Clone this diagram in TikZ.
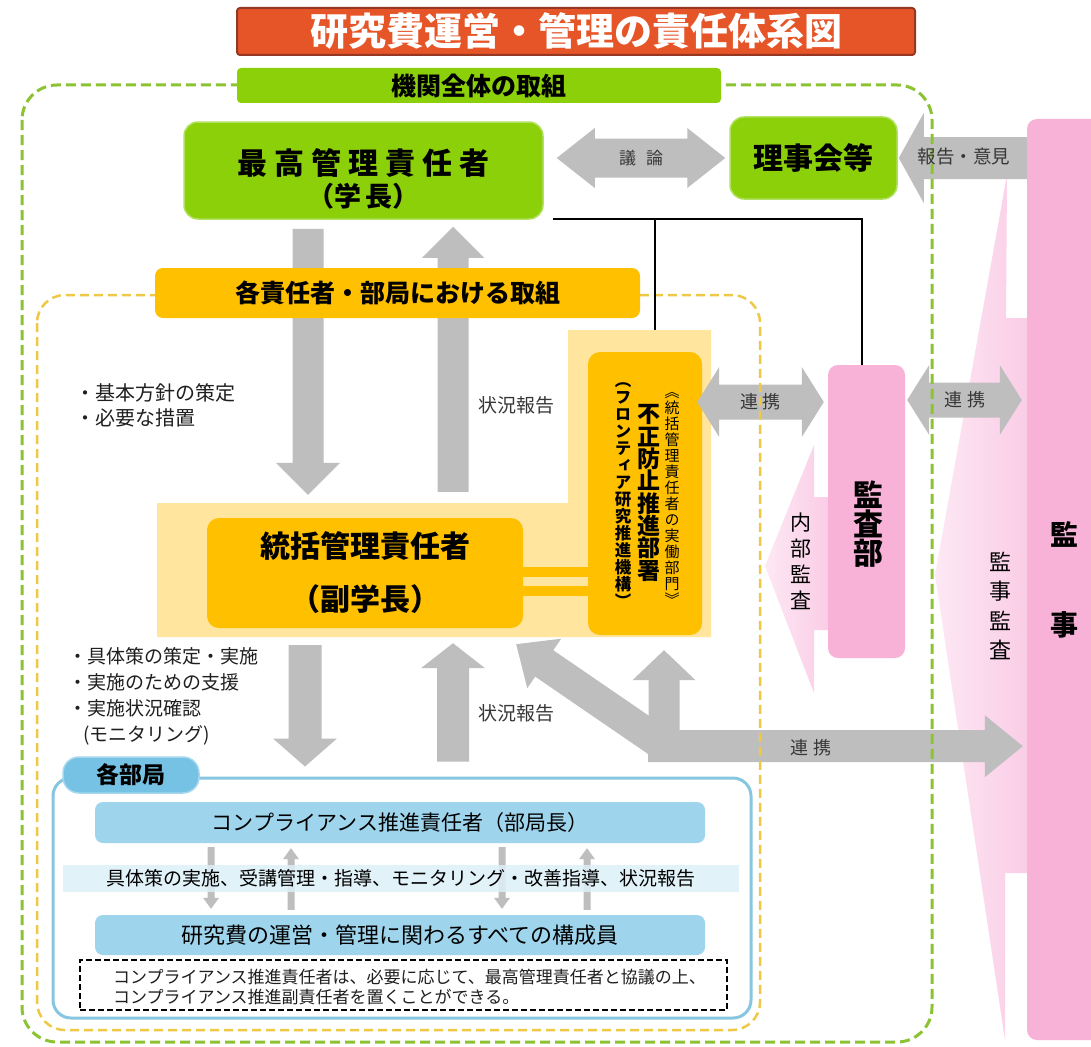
\documentclass[tikz,border=0pt]{standalone}
\usepackage{fontspec}
\setmainfont{Noto Sans CJK JP}
\newfontfamily\jpv[RawFeature=+vert]{Noto Sans CJK JP}
\usetikzlibrary{calc}
\setlength{\lineskiplimit}{-100pt}
\newcommand\fsz[2]{\fontsize{#1}{#2}\selectfont}
\definecolor{cTitle}{RGB}{230,85,40}
\definecolor{cTitleB}{RGB}{150,55,35}
\definecolor{cGreen}{RGB}{140,208,10}
\definecolor{cGreenB}{RGB}{178,224,96}
\definecolor{cGDash}{RGB}{140,195,50}
\definecolor{cYDash}{RGB}{238,200,70}
\definecolor{cOrange}{RGB}{255,192,0}
\definecolor{cLYellow}{RGB}{255,229,158}
\definecolor{cPink}{RGB}{248,178,216}
\definecolor{cPinkL}{RGB}{250,204,230}
\definecolor{cPinkLL}{RGB}{253,232,244}
\definecolor{cGray}{RGB}{190,190,190}
\definecolor{cGrayT}{RGB}{55,55,55}
\definecolor{cBlueT}{RGB}{118,194,228}
\definecolor{cBlueTab}{RGB}{165,215,238}
\definecolor{cBlueB}{RGB}{135,198,224}
\definecolor{cBlueBar}{RGB}{158,212,236}
\definecolor{cBlueS}{RGB}{222,240,248}
% single block arrow: tail, tip, shaft half width, head length, head half width, colour
\newcommand\blkarrow[6]{%
 \coordinate (aT) at (#1);
 \coordinate (aP) at (#2);
 \coordinate (aH) at ($(aP)!#4pt!(aT)$);
 \fill[#6] ($(aT)!#3pt!90:(aP)$) -- ($(aH)!#3pt!90:(aP)$) -- ($(aH)!#5pt!90:(aP)$) -- (aP)
   -- ($(aH)!#5pt!-90:(aP)$) -- ($(aH)!#3pt!-90:(aP)$) -- ($(aT)!#3pt!-90:(aP)$) -- cycle;}
% double block arrow
\newcommand\dblarrow[6]{%
 \coordinate (aA) at (#1);
 \coordinate (aB) at (#2);
 \coordinate (aHA) at ($(aA)!#4pt!(aB)$);
 \coordinate (aHB) at ($(aB)!#4pt!(aA)$);
 \fill[#6] (aA) -- ($(aHA)!#5pt!90:(aB)$) -- ($(aHA)!#3pt!90:(aB)$) -- ($(aHB)!#3pt!90:(aB)$)
   -- ($(aHB)!#5pt!90:(aB)$) -- (aB) -- ($(aHB)!#5pt!-90:(aB)$) -- ($(aHB)!#3pt!-90:(aB)$)
   -- ($(aHA)!#3pt!-90:(aB)$) -- ($(aHA)!#5pt!-90:(aB)$) -- cycle;}
\tikzset{
  rbox/.style={rounded corners=#1, inner sep=0pt, align=center},
  greenbox/.style={rbox=14, fill=cGreen, draw=cGreenB, line width=1.5},
  orangebox/.style={rbox=12, fill=cOrange},
  pinkbox/.style={rbox=10, fill=cPink},
  bluebar/.style={rbox=8, fill=cBlueBar},
  atext/.style={text=cGrayT, inner sep=0pt},
  btext/.style={inner sep=0pt, align=left, text=black!88},
  vtext/.style={inner sep=0pt, align=center},
}
\begin{document}
\begin{tikzpicture}[x=1pt,y=-1pt]
\fill[white] (0,0) rectangle (1091,1046);
\useasboundingbox (0,0) rectangle (1091,1046);

% ---- pink audit shapes
\shade[left color=cPinkLL,right color=cPinkL] (1007,175) -- (935,575) -- (1005,1040) -- (1005,873) -- (1030,873) -- (1030,318) -- (1006,318) -- cycle;
\node[pinkbox, minimum width=83, minimum height=921] (kanji) at (1068.5,579.5) {};
\shade[left color=cPinkLL,right color=cPinkL] (814,445) -- (765,566) -- (814,693) -- (814,630) -- (830,630) -- (830,497) -- (814,497) -- cycle;

% ---- light yellow background
\fill[cLYellow] (157,503) -- (568,503) -- (568,330) -- (711,330) -- (711,637) -- (157,637) -- cycle;
\coordinate (lytop) at (655,330);

% ---- main boxes
\node[greenbox, minimum width=359, minimum height=97] (top) at (363.5,170.5) {};
\node[inner sep=0pt, align=center, font=\bfseries\fsz{30}{32}] (toptext) at (363.5,179)
  {最\hspace{7pt}高\hspace{7pt}管\hspace{7pt}理\hspace{7pt}責\hspace{7pt}任\hspace{7pt}者\\\fsz{27}{32}（学\hspace{4pt}長）};
\node[greenbox, minimum width=167, minimum height=82, font=\bfseries\fsz{30}{32}] (rij) at (813.5,158) {理事会等};
\node[orangebox, minimum width=316, minimum height=110, font=\bfseries\fsz{30}{53}] (tok) at (365,573) {統括管理責任者\\（副学長）};
\node[orangebox, minimum width=114, minimum height=283] (fus) at (645,493.5) {};
\node[vtext, font=\jpv\fsz{15}{16}] (fusA) at (672,499) {︽\\統\\括\\管\\理\\責\\任\\者\\の\\実\\働\\部\\門\\︾};
\node[vtext, font=\jpv\bfseries\fsz{23}{22.3}] (fusB) at (649,493) {不\\正\\防\\止\\推\\進\\部\\署};
\node[vtext, font=\jpv\bfseries\fsz{16.5}{17}] (fusC) at (623,495) {︵\\フ\\ロ\\ン\\テ\\ィ\\ア\\研\\究\\推\\進\\機\\構\\︶};
\draw[cOrange, line width=10] ($(tok.east)+(0,-1)$) -- ($(fus.west |- tok.east)+(0,-1)$);
\draw[cOrange, line width=10] ($(tok.east)+(0,18)$) -- ($(fus.west |- tok.east)+(0,18)$);
\node[pinkbox, minimum width=77, minimum height=293] (audit) at (866.5,511.5) {};

% ---- blue section
\node[rbox=18, draw=cBlueB, line width=3, fill=white, minimum width=698, minimum height=240] (bu) at (402,898) {};
\node[bluebar, minimum width=610, minimum height=41, font=\fsz{21}{24}] (cp) at (400,822.5) {コンプライアンス推進責任者（部局長）};
\node[bluebar, minimum width=610, minimum height=40, font=\fsz{22}{24}] (ms) at (400,935) {研究費の運営・管理に関わるすべての構成員};
\blkarrow{$(cp.south)+(-189,4)$}{$(ms.north)+(-189,-6)$}{3.5}{11}{8}{cGray}
\blkarrow{$(ms.north)+(-109,-5)$}{$(cp.south)+(-109,5)$}{3.5}{11}{8}{cGray}
\blkarrow{$(cp.south)+(102,4)$}{$(ms.north)+(102,-6)$}{3.5}{11}{8}{cGray}
\blkarrow{$(ms.north)+(187,-5)$}{$(cp.south)+(187,5)$}{3.5}{11}{8}{cGray}
\node[inner sep=0pt, fill=cBlueS, fill opacity=0.85, text opacity=1, minimum width=676, minimum height=27, font=\fsz{19}{22}] (strip) at (401,878.5) {具体策の実施、受講管理・指導、モニタリング・改善指導、状況報告};
\node[rbox=16, fill=cBlueT, draw=cBlueTab, line width=1.5, minimum width=136, minimum height=36, font=\bfseries\fsz{23}{25}] (tab) at (131,775) {各部局};
\node[draw=black, dash pattern=on 6pt off 3pt, line width=1.8, fill=white, minimum width=647, minimum height=50, inner sep=0pt] (note) at (403.5,985) {};
\node[btext, anchor=west, font=\fsz{17}{20.5}] (notetext) at (113,987) {コンプライアンス推進責任者は、必要に応じて、最高管理責任者と協議の上、\\コンプライアンス推進副責任者を置くことができる。};

% ---- grey vertical / diagonal arrows
\blkarrow{$(top.south)+(-55.5,9)$}{$(tok.north)+(-57,-23)$}{15.5}{32}{32}{cGray}
\blkarrow{$(tok.north)+(88,-26)$}{$(top.south)+(89.5,7)$}{15.5}{31}{31}{cGray}
\blkarrow{$(tok.south)+(-60,17)$}{$(bu.north)+(-97,-10)$}{16.5}{28}{32}{cGray}
\blkarrow{$(bu.north)+(51,-15)$}{$(tok.south)+(88,15)$}{16}{25}{32}{cGray}
\coordinate (J) at ($(fus.south)+(19,111)$);
\blkarrow{J}{$(fus.south)+(19,15)$}{15.5}{30}{31.5}{cGray}
\blkarrow{$(J)+(-16,0)$}{$(kanji.west |- J)+(-4,0)$}{16}{38}{31}{cGray}
\blkarrow{$(J)+(1,0)$}{$(tok.south east)+(-7,16)$}{16}{34}{30}{cGray}

% ---- horizontal grey arrows
\coordinate (g1) at ($(top.east |- rij.west)+(13,0)$);
\coordinate (g2) at ($(rij.west)+(-4,0)$);
\dblarrow{g1}{g2}{19.5}{38}{30}{cGray}
\blkarrow{kanji.west |- rij.west}{$(rij.east)+(1,0)$}{21}{25}{45}{cGray}
\coordinate (r1) at ($(fus.east)+(-5,-91.5)$);
\coordinate (r2) at ($(audit.west)+(-4,-109.5)$);
\dblarrow{r1}{r2}{17.5}{22}{35}{cGray}
\coordinate (r3) at ($(audit.east)+(2,-111.5)$);
\coordinate (r4) at ($(kanji.west)+(-5,-179.5)$);
\dblarrow{r3}{r4}{17.5}{22}{35}{cGray}

% ---- dashed frames
\draw[cGDash, line width=3, dash pattern=on 10pt off 5pt, rounded corners=35] (22,85) rectangle (932,1042);
\draw[cYDash, line width=2.5, dash pattern=on 9pt off 5pt, rounded corners=28] (37,295) rectangle (760,1030);

% ---- labels
\node[rbox=4, fill=cGreen, minimum width=484, minimum height=35, font=\bfseries\fsz{25}{27}] (glabel) at (479,85.5) {機関全体の取組};
\node[orangebox, rbox=8, minimum width=485, minimum height=50, font=\bfseries\fsz{25}{27}] (olabel) at (397.5,293) {各責任者・部局における取組};
\node[rbox=3, fill=cTitle, draw=cTitleB, line width=2, minimum width=678, minimum height=47, text=white, font=\bfseries\fsz{38}{40}] (title) at (576,31.5) {研究費運営・管理の責任体系図};

% ---- black lines
\coordinate (bl1) at ($(top.south east)+(9,-1)$);
\draw[line width=2.5] (bl1) -- ($(bl1 -| audit.north)+(-4.5,0)$) -- ($(audit.north)+(-4.5,0)$);
\draw[line width=2.5] (bl1 -| lytop) -- (lytop);

% ---- texts
\node[atext, font=\fsz{17}{20}] (tgiron) at ($(g1)!0.5!(g2)$) {議\hspace{10pt}論};
\node[atext, font=\fsz{18.5}{20}] (thoukoku) at (964,157) {報告・意見};
\node[atext, font=\fsz{18}{20}] (tren1) at ($(r1)!0.5!(r2)$) {連\hspace{5pt}携};
\node[atext, font=\fsz{18}{20}] (tren2) at ($(r3)!0.5!(r4)$) {連\hspace{5pt}携};
\node[atext, font=\fsz{18}{20}] (tren3) at (811,748) {連\hspace{5pt}携};
\node[atext, font=\fsz{19}{21}] (stat1) at (516,405) {状況報告};
\node[atext, font=\fsz{19}{21}] (stat2) at (516,713) {状況報告};
\node[btext, anchor=west, font=\fsz{20}{25}] (bul1) at (75,405.5) {・基本方針の策定\\・必要な措置};
\node[btext, anchor=west, font=\fsz{19}{26}] (bul2) at (68,696) {・具体策の策定・実施\\・実施のための支援\\・実施状況確認\\\hspace{15pt}(モニタリング)};
\node[vtext, font=\bfseries\fsz{30}{29}] (audittext) at (868,524) {監\\査\\部};
\node[vtext, font=\fsz{21}{26}] (naibu) at (801,561) {内\\部\\監\\査};
\node[vtext, font=\fsz{22}{29.5}] (kjkansa) at (1000,606) {監\\事\\監\\査};
\node[vtext, font=\bfseries\fsz{28}{90}] (kanjitext) at (1064,580) {監\\事};
\end{tikzpicture}
\end{document}
